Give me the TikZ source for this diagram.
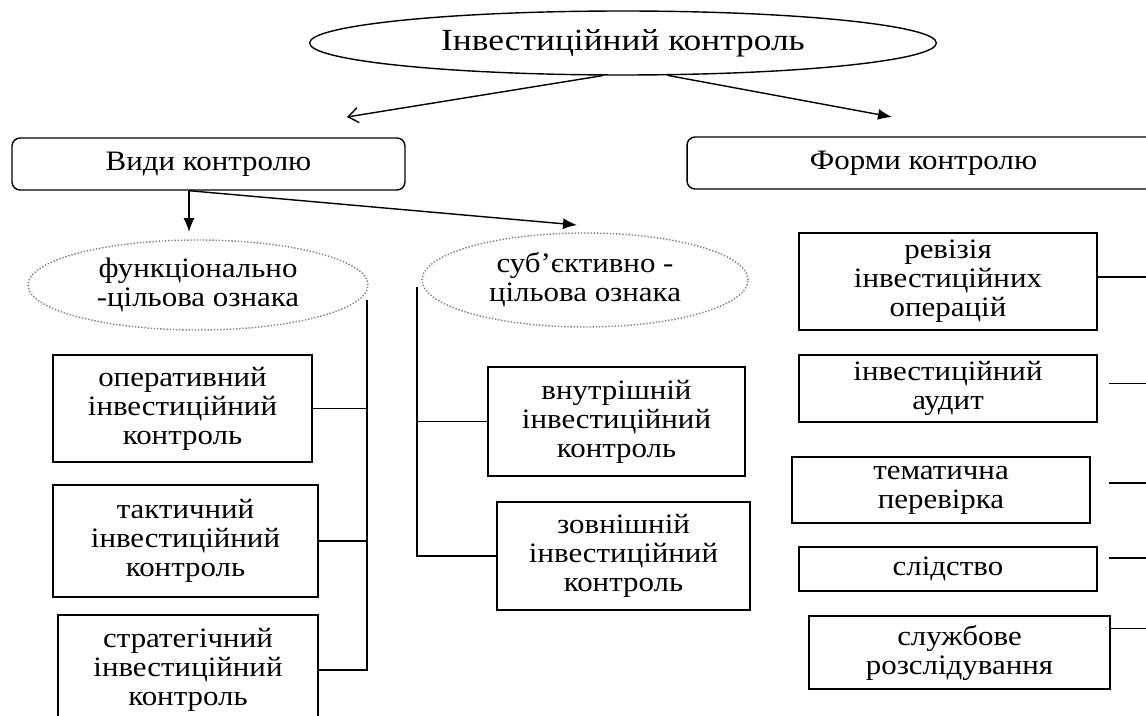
\documentclass[tikz,border=0pt]{standalone}
\usepackage{fontspec}
\setmainfont{Liberation Serif}
\newfontfamily\boxfont[FakeStretch = 1.1]{Liberation Serif}
\newfontfamily\titlefont[FakeStretch = 1.15]{Liberation Serif}
\usetikzlibrary{shapes.geometric, arrows.meta}

\tikzstyle{oval} = [ellipse, draw, inner sep = 0pt, font = \titlefont\fontsize{17.5}{20}\selectfont]
\tikzstyle{sign} = [ellipse, draw = gray, densely dotted, inner sep = 0pt, align = center]
\tikzstyle{head} = [rectangle, draw, rounded corners = 1.6mm, inner sep = 0pt]
\tikzstyle{block} = [rectangle, draw, inner sep = 0pt, align = center]
\tikzstyle{wire} = [draw, opacity = 1]
\tikzstyle{arrow} = [draw, -{Latex[length = 2.8mm, width = 2.2mm]}]

\begin{document}
\begin{tikzpicture}[x = 0.02cm, y = -0.02cm, thick, font = \boxfont\fontsize{16}{16.5}\selectfont]
        \useasboundingbox (0, 0) rectangle (1146, 716);

        \node[oval, minimum width = 12.54cm, minimum height = 1.28cm] (top) at (623, 43) {Інвестиційний контроль};
        \node[head, minimum width = 7.86cm, minimum height = 1.04cm] (kinds) at (208.5, 164) {Види контролю};
        \node[head, minimum width = 9.46cm, minimum height = 1.04cm] (forms) at (923.5, 163) {Форми контролю};

        \coordinate (kindstip) at (347, 117);
        \coordinate (formstip) at (892, 117);
        \path[draw, -{Straight Barb[length = 2mm, width = 3mm]}] (top.-122) -- (kindstip);
        \path[arrow] (top.-36) -- (formstip);

        % види контролю
        \node[sign, minimum width = 6.8cm, minimum height = 1.8cm] (func) at (198, 285) {функціонально\\-цільова ознака};
        \node[sign, minimum width = 6.52cm, minimum height = 1.88cm] (subj) at (585, 280) {суб’єктивно -\\цільова ознака};

        \coordinate (functip) at (189, 232);
        \coordinate (subjtip) at (577, 225);
        \path[arrow] (kinds.south -| functip) -- (functip);
        \path[arrow] (kinds.south -| functip) -- (subjtip);

        \node[block, minimum width = 5.18cm, minimum height = 2.14cm] (oper) at (182.5, 408.5) {оперативний\\інвестиційний\\контроль};
        \node[block, minimum width = 5.3cm, minimum height = 2.24cm] (takt) at (185.5, 541) {тактичний\\інвестиційний\\контроль};
        \node[block, minimum width = 5.2cm, minimum height = 2.2cm] (strat) at (188, 670) {стратегічний\\інвестиційний\\контроль};

        \coordinate (lspine) at (367, 300);
        \path[wire] (lspine) |- (strat.east);
        \path[wire] (oper.east) -- (oper.east -| lspine);
        \path[wire] (takt.east) -- (takt.east -| lspine);

        \node[block, minimum width = 5.14cm, minimum height = 2.18cm] (inner) at (616.5, 421.5) {внутрішній\\інвестиційний\\контроль};
        \node[block, minimum width = 5.06cm, minimum height = 2.16cm] (outer) at (623.5, 556) {зовнішній\\інвестиційний\\контроль};

        \coordinate (rspine) at (417, 287);
        \path[wire] (rspine) |- (outer.west);
        \path[wire] (inner.west) -- (inner.west -| rspine);

        % форми контролю
        \node[block, minimum width = 5.96cm, minimum height = 1.94cm] (revis) at (948, 281.5) {ревізія\\інвестиційних\\операцій};
        \node[block, minimum width = 5.96cm, minimum height = 1.34cm] (audit) at (948, 388.5) {інвестиційний\\аудит};
        \node[block, minimum width = 5.96cm, minimum height = 1.32cm] (theme) at (941, 490) {тематична\\перевірка};
        \node[block, minimum width = 5.96cm, minimum height = 0.88cm] (inquiry) at (948, 569) {слідство};
        \node[block, minimum width = 6.02cm, minimum height = 1.46cm] (service) at (959.5, 652.5) {службове\\розслідування};

        \coordinate (fspine) at (1160, 260);
        \path[wire] ([yshift = 0.09cm]revis.east) -- ([yshift = 0.09cm]revis.east -| fspine);
        \path[wire] ([xshift = 0.22cm, yshift = 0.1cm]audit.east) -- ([yshift = 0.1cm]audit.east -| fspine);
        \path[wire] ([xshift = 0.36cm, yshift = 0.14cm]theme.east) -- ([yshift = 0.14cm]theme.east -| fspine);
        \path[wire] ([xshift = 0.22cm, yshift = 0.22cm]inquiry.east) -- ([yshift = 0.22cm]inquiry.east -| fspine);
        \path[wire] ([yshift = 0.48cm]service.east) -- ([yshift = 0.48cm]service.east -| fspine);
\end{tikzpicture}
\end{document}
